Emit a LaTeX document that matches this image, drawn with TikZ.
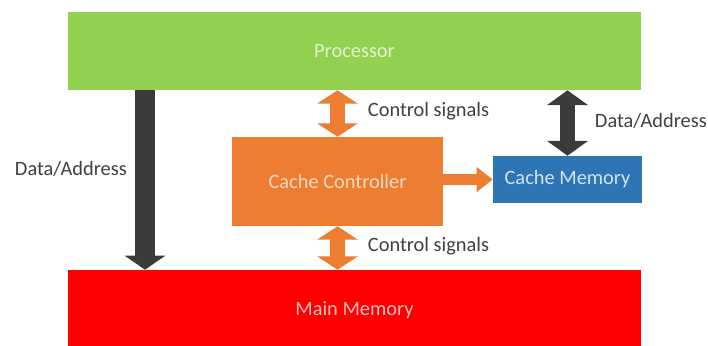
\documentclass[tikz,border=0pt]{standalone}
\usepackage{fontspec}
\setmainfont{Carlito}
\usepackage{tikz}
\usetikzlibrary{arrows.meta}
\definecolor{procgreen}{HTML}{92D050}
\definecolor{ctrlorange}{HTML}{ED7D31}
\definecolor{cmemblue}{HTML}{2E75B6}
\definecolor{mainred}{HTML}{FF0000}
\definecolor{busgray}{HTML}{3B3B3B}
\definecolor{labelgray}{HTML}{404040}

\begin{document}
\begin{tikzpicture}[x=0.025cm,y=-0.025cm,
  font=\fontsize{14.5}{17}\selectfont,
  unit/.style={rectangle,inner sep=0pt},
  lbl/.style={text=labelgray,anchor=west},
  ctrlbus/.style={draw=ctrlorange,line width=10.7pt,
    {Triangle[width=28.5pt,length=9.5pt]}-{Triangle[width=28.5pt,length=9.5pt]}},
  databus/.style={draw=busgray,line width=10.7pt,
    {Triangle[width=28.5pt,length=10.5pt]}-{Triangle[width=28.5pt,length=10.5pt]}},
  mainbus/.style={draw=busgray,line width=14.2pt,-{Triangle[width=28.5pt,length=10pt]}},
  fillbus/.style={draw=ctrlorange,line width=8.5pt,-{Triangle[width=17pt,length=11.4pt]}}]
\useasboundingbox[fill=white] (0,0) rectangle (708,345);
% blocks
\node[unit,fill=procgreen,text=white!75!procgreen,minimum width=14.325cm,minimum height=1.95cm] (proc) at (354.5,51) {Processor};
\node[unit,fill=ctrlorange,text=white!70!ctrlorange,minimum width=5.275cm,minimum height=2.225cm] (ctrl) at (337.5,181.5) {Cache Controller};
\node[unit,fill=cmemblue,text=white!80!cmemblue,minimum width=3.725cm,minimum height=1.175cm] (cmem) at (567.5,179.5) {Cache Memory};
\node[unit,fill=mainred,text=white!75!mainred,minimum width=14.325cm,minimum height=2cm] (mainmem) at (354.5,310) {Main Memory};
% left data path
\coordinate (lcol) at (145,0);
\draw[mainbus] (proc.south -| lcol) -- (mainmem.north -| lcol);
% control signals
\draw[ctrlbus] (proc.south -| ctrl) -- (ctrl.north);
\draw[ctrlbus] (ctrl.south) -- (mainmem.north -| ctrl);
% cache data path
\draw[databus] (proc.south -| cmem) -- (cmem.north);
\draw[fillbus] (ctrl.east |- cmem) -- (cmem.west);
% labels
\node[lbl] (lbldata) at (10,169) {Data/Address};
\node[lbl] (lblctrla) at (363,111) {Control signals};
\node[lbl] (lblctrlb) at (363,246) {Control signals};
\node[lbl] (lbldatb) at (590,121) {Data/Address};
\end{tikzpicture}
\end{document}
